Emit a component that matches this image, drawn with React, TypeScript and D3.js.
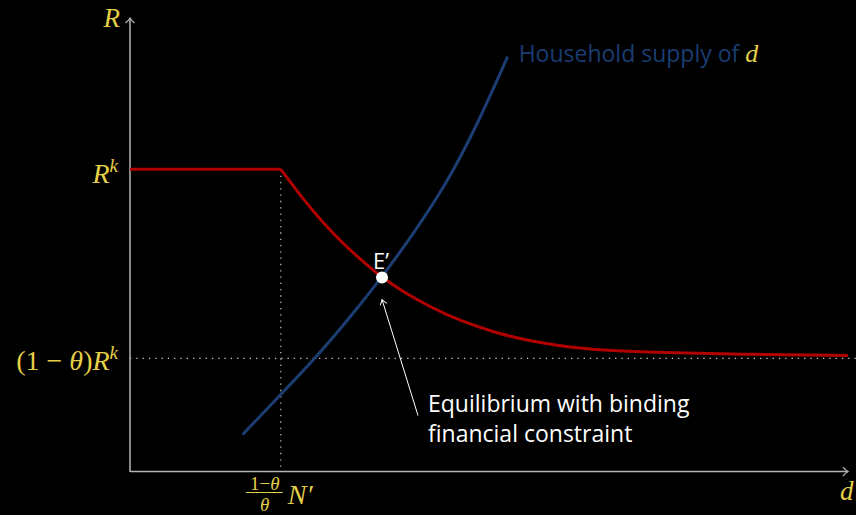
import * as d3 from "d3";

// values, in arbitrary model units (d on x, R on y)
const rK = 67;            // R^k level
const rLow = 25.1;        // (1 - θ) R^k
const kinkD = 21;         // (1-θ)/θ N'
const eqD = 35.1;         // E'
const eqR = 43.0;

const redFlatD = [0, 21];
const redFlatR = [67, 67];
const redCurveD = [21, 24, 27, 30, 33, 35.1, 38, 42, 46, 51, 56, 61, 66, 72, 85, 100];
const redCurveR = [67, 60.6, 54.9, 50.0, 45.8, 43.0, 39.9, 36.3, 33.4, 30.7, 28.8, 27.6, 26.9, 26.4, 26.0, 25.7];

const blueD = [15.7, 21.0, 25.8, 30.3, 35.1, 39.5, 44.0, 48.3, 52.6];
const blueR = [8.2, 17.1, 25.1, 33.5, 43.1, 52.8, 63.6, 76.6, 92.0];

const W = 856;
const H = 515;
const YELLOW = "#e4cf46";
const RED = "#b00000";
const BLUE = "#1b3d72";
const AXIS = "#b4b4b4";
const DOT = "#c8c8c8";
const SANS = "'Open Sans', 'Noto Sans', sans-serif";
const SERIF = "'Liberation Serif', 'DejaVu Serif', serif";

export default function App() {
  const x = d3.scaleLinear().domain([0, 100]).range([130, 848]);
  const y = d3.scaleLinear().domain([0, 100]).range([471.5, 20.5]);

  const line = d3.line<[number, number]>().x(d => x(d[0])).y(d => y(d[1]));
  const smooth = d3.line<[number, number]>().x(d => x(d[0])).y(d => y(d[1])).curve(d3.curveBasis);

  const flat = redFlatD.map((d, i) => [d, redFlatR[i]] as [number, number]);
  const curve = redCurveD.map((d, i) => [d, redCurveR[i]] as [number, number]);
  const blue = blueD.map((d, i) => [d, blueR[i]] as [number, number]);

  const ex = x(eqD);
  const ey = y(eqR);
  const x0 = x(0);
  const y0 = y(0);
  const kx = x(kinkD);

  return (
    <svg width={W} height={H} style={{ position: "absolute", left: 0, top: 0, background: "#000" }}>
      <defs>
        <marker id="tip" viewBox="-6 -5 7 10" refX="0" refY="0" markerWidth="7" markerHeight="10" markerUnits="userSpaceOnUse" orient="auto">
          <path d="M-5,-4.5 Q-2,-1 0,0 Q-2,1 -5,4.5" fill="none" stroke={AXIS} strokeWidth={1.2} />
        </marker>
        <marker id="tipw" viewBox="-6 -5 7 10" refX="0" refY="0" markerWidth="7" markerHeight="10" markerUnits="userSpaceOnUse" orient="auto">
          <path d="M-5,-3.5 Q-2,-1 0,0 Q-2,1 -5,3.5" fill="none" stroke="#fff" strokeWidth={1} />
        </marker>
      </defs>
      <rect width={W} height={H} fill="#000" />

      {/* dotted guides */}
      <line x1={x0} x2={W} y1={y(rLow)} y2={y(rLow)} stroke={DOT} strokeWidth={1.2} strokeDasharray="1.3,5" />
      <line x1={kx} x2={kx} y1={y(rK)} y2={y0} stroke={DOT} strokeWidth={1.2} strokeDasharray="1.3,5" />

      {/* axes */}
      <line x1={x0} x2={x0} y1={y0 + 0.5} y2={18} stroke={AXIS} strokeWidth={1.5} markerEnd="url(#tip)" />
      <line x1={x0} x2={848} y1={y0} y2={y0} stroke={AXIS} strokeWidth={1.5} markerEnd="url(#tip)" />

      {/* curves */}
      <path d={line(flat) ?? ""} fill="none" stroke={RED} strokeWidth={3} />
      <path d={smooth(curve) ?? ""} fill="none" stroke={RED} strokeWidth={3} />
      <path d={smooth(blue) ?? ""} fill="none" stroke={BLUE} strokeWidth={3} />

      {/* equilibrium */}
      <circle cx={ex} cy={ey} r={6} fill="#fff" />
      <text x={ex - 9} y={ey - 9} fill="#fff" fontFamily={SANS} fontSize={22}>E’</text>
      <line x1={ex + 36} y1={ey + 138} x2={ex} y2={ey + 22} stroke="#fff" strokeWidth={1} markerEnd="url(#tipw)" />
      <text fill="#fff" fontFamily={SANS} fontSize={23}>
        <tspan x={ex + 46} y={ey + 134}>Equilibrium with binding</tspan>
        <tspan x={ex + 46} y={ey + 164}>financial constraint</tspan>
      </text>

      {/* supply label */}
      <text x={x(blueD[blueD.length - 1]) + 11} y={62} fontFamily={SANS} fontSize={23} fill={BLUE}>
        Household supply of{" "}
        <tspan fontFamily={SERIF} fontStyle="italic" fontSize={26} fill={YELLOW}>d</tspan>
      </text>

      {/* axis labels */}
      <text x={x0 - 10} y={27} textAnchor="end" fontFamily={SERIF} fontStyle="italic" fontSize={27} fill={YELLOW}>R</text>
      <text x={840} y={500} fontFamily={SERIF} fontStyle="italic" fontSize={27} fill={YELLOW}>d</text>

      <text x={x0 - 12} y={y(rK) + 14} textAnchor="end" fontFamily={SERIF} fontSize={28} fill={YELLOW}>
        <tspan fontStyle="italic">R</tspan>
        <tspan fontStyle="italic" fontSize={19} dy={-11}>k</tspan>
      </text>
      <text x={x0 - 12} y={y(rLow) + 12} textAnchor="end" fontFamily={SERIF} fontSize={28} fill={YELLOW}>
        <tspan>(1 − </tspan>
        <tspan fontStyle="italic">θ</tspan>
        <tspan>)</tspan>
        <tspan fontStyle="italic">R</tspan>
        <tspan fontStyle="italic" fontSize={19} dy={-11}>k</tspan>
      </text>

      {/* fraction under the kink */}
      <g fill={YELLOW} fontFamily={SERIF}>
        <text x={kx - 16} y={y0 + 18} textAnchor="middle" fontSize={19}>
          1−<tspan fontStyle="italic">θ</tspan>
        </text>
        <line x1={kx - 35} x2={kx + 2} y1={y0 + 21} y2={y0 + 21} stroke={YELLOW} strokeWidth={1.2} />
        <text x={kx - 16} y={y0 + 39} textAnchor="middle" fontSize={19} fontStyle="italic">θ</text>
        <text x={kx + 7} y={y0 + 32} fontSize={28} fontStyle="italic">N′</text>
      </g>
    </svg>
  );
}
